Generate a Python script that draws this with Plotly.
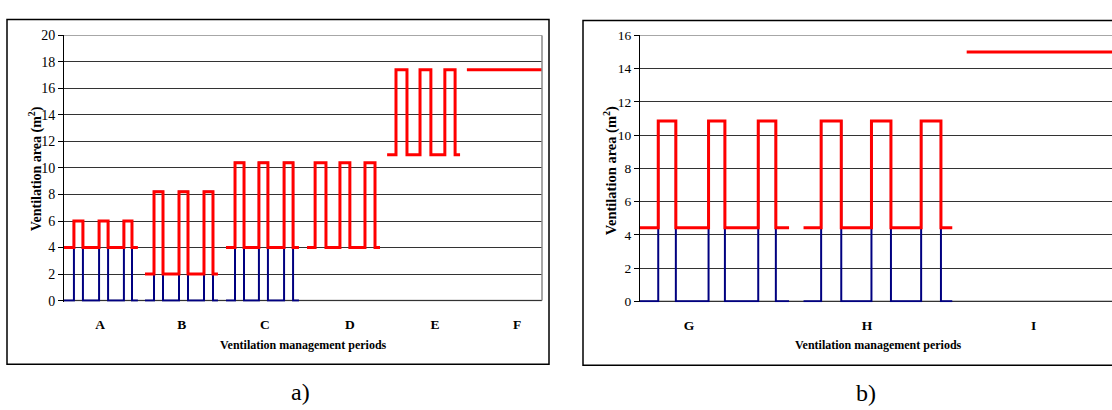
import plotly.graph_objects as go

W, H = 1112, 410
SERIF = "Times New Roman, Liberation Serif, DejaVu Serif, serif"

# ---------------- chart a) : periods A-F ----------------
periods_a = ["A", "B", "C", "D", "E", "F"]
label_hours_a = [11.6, 37.9, 64.7, 92.1, 119.5, 146.0]      # where the period names sit on the time axis
start_a = [0, 26, 52, 78, 104, 130]                          # period start (h)
begin_a = [0.0, 0.1, 0.2, 0.3, 0.1, -0.2]                    # first sample within period (h)
end_a = [23.8, 23.6, 23.7, 23.8, 23.6, 24.0]                 # last sample within period (h)
base_a = [4.0, 2.0, 4.0, 4.0, 11.0, 17.4]                    # resting ventilation area (m2)
peak_a = [6.0, 8.2, 10.4, 10.4, 17.4, 17.4]                  # ventilation area while opened (m2)
open_a = [[3.2, 11.3, 19.3], [3.0, 11.05, 19.1], [3.1, 10.8, 18.9],
          [2.9, 10.9, 18.97], [2.96, 10.7, 18.7], []]
close_a = [[6.1, 14.2, 21.9], [5.9, 13.95, 22.0], [6.0, 13.7, 21.8],
           [6.4, 14.1, 22.2], [6.5, 14.2, 22.0], []]
pulse_periods_a = [0, 1, 2]                                  # periods where the opening pulses start from zero

# ---------------- chart b) : periods G-I ----------------
periods_b = ["G", "H", "I"]
label_hours_b = [7.8, 36.1, 62.6]
start_b = [0, 26, 52]
begin_b = [0.0, 0.0, -0.06]
end_b = [23.7, 23.65, 24.0]
base_b = [4.43, 4.43, 15.0]
peak_b = [10.84, 10.84, 15.0]
open_b = [[2.9, 10.9, 18.8], [2.8, 10.8, 18.7], []]
close_b = [[5.7, 13.5, 21.6], [6.0, 13.9, 21.85], []]
pulse_periods_b = [0, 1]


def step_series(idx, start, begin, end, low, high, opens, closes):
    """Build a stepped x/y series over the chosen periods, gaps between periods."""
    xs, ys = [], []
    for i in idx:
        s = start[i]
        xs.append(s + begin[i]); ys.append(low[i])
        for on, off in zip(opens[i], closes[i]):
            xs += [s + on, s + on, s + off, s + off]
            ys += [low[i], high[i], high[i], low[i]]
        xs.append(s + end[i]); ys.append(low[i])
        xs.append(None); ys.append(None)
    return xs, ys


fig = go.Figure()

# blue: opening pulses measured from zero
bx, by = step_series(pulse_periods_a, start_a, begin_a, end_a,
                     [0] * len(periods_a), peak_a, open_a, close_a)
fig.add_trace(go.Scatter(x=bx, y=by, mode="lines", line=dict(color="#000080", width=2),
                         xaxis="x", yaxis="y", showlegend=False, hoverinfo="skip"))
# red: total ventilation area
rx, ry = step_series(range(len(periods_a)), start_a, begin_a, end_a,
                     base_a, peak_a, open_a, close_a)
fig.add_trace(go.Scatter(x=rx, y=ry, mode="lines", line=dict(color="#FF0000", width=3),
                         xaxis="x", yaxis="y", showlegend=False, hoverinfo="skip"))

bx, by = step_series(pulse_periods_b, start_b, begin_b, end_b,
                     [0] * len(periods_b), peak_b, open_b, close_b)
fig.add_trace(go.Scatter(x=bx, y=by, mode="lines", line=dict(color="#000080", width=2),
                         xaxis="x2", yaxis="y2", showlegend=False, hoverinfo="skip"))
rx, ry = step_series(range(len(periods_b)), start_b, begin_b, end_b,
                     base_b, peak_b, open_b, close_b)
fig.add_trace(go.Scatter(x=rx, y=ry, mode="lines", line=dict(color="#FF0000", width=3),
                         xaxis="x2", yaxis="y2", showlegend=False, hoverinfo="skip"))


def px_x(p):
    return p / W


def px_y(p):
    return 1 - p / H


xcommon = dict(showgrid=False, zeroline=False, showline=False,
               ticks="", tickmode="array", ticklabelstandoff=13,
               tickfont=dict(family=SERIF, size=13.5, color="black", weight="bold"))
ycommon = dict(showgrid=True, gridcolor="#333333", gridwidth=1, zeroline=False,
               showline=True, linecolor="black", linewidth=1,
               ticks="outside", ticklen=5, tickwidth=1, tickcolor="black",
               tick0=0, dtick=2,
               tickfont=dict(family=SERIF, size=14, color="black"))

# a little room below zero so the baseline of the pulses is not clipped
y_pad_a = 0.08
y_pad_b = 0.065

fig.update_layout(
    width=W, height=H, autosize=False,
    margin=dict(l=0, r=0, t=0, b=0, pad=0),
    paper_bgcolor="white", plot_bgcolor="white",
    xaxis=dict(domain=[px_x(64), px_x(542)], range=[0, 154],
               tickvals=label_hours_a, ticktext=periods_a, anchor="y", **xcommon),
    yaxis=dict(domain=[px_y(305.1), px_y(29.3)], range=[-y_pad_a, 20], anchor="x", **ycommon),
    xaxis2=dict(domain=[px_x(640), 1.0], range=[0, 76 * 472 / 478],
                tickvals=label_hours_b, ticktext=periods_b, anchor="y2", **xcommon),
    yaxis2=dict(domain=[px_y(305.8), px_y(29.3)], range=[-y_pad_b, 16], anchor="x2", **ycommon),
)
fig.layout.yaxis2.tickfont.size = 13.5

gray = "#8a8a8a"
shapes = [
    # outer chart frames
    dict(type="rect", xref="paper", yref="paper", x0=px_x(7), x1=px_x(549), y0=px_y(370), y1=px_y(13),
         line=dict(color="black", width=1.5)),
    dict(type="rect", xref="paper", yref="paper", x0=px_x(583), x1=px_x(1125), y0=px_y(371), y1=px_y(14),
         line=dict(color="black", width=1.5)),
    # category axis lines at zero, under the series
    dict(type="line", xref="x domain", yref="y", x0=0, x1=1, y0=0, y1=0, layer="below",
         line=dict(color=gray, width=1.5)),
    dict(type="line", xref="x2 domain", yref="y2", x0=0, x1=1, y0=0, y1=0, layer="below",
         line=dict(color=gray, width=1.5)),
    # plot-area borders
    dict(type="line", xref="x domain", yref="y", x0=0, x1=1, y0=20, y1=20,
         line=dict(color=gray, width=1.5)),
    dict(type="line", xref="x domain", yref="y", x0=1, x1=1, y0=0, y1=20,
         line=dict(color=gray, width=1.5)),
    dict(type="line", xref="x2 domain", yref="y2", x0=0, x1=1, y0=16, y1=16,
         line=dict(color=gray, width=1.5)),
]
fig.update_layout(shapes=shapes)

ann_font = dict(family=SERIF, color="black", weight="bold")
annotations = [
    dict(text="Ventilation area (m<sup>2</sup>)", textangle=-90, x=px_x(35), y=px_y(168),
         font=dict(size=14, **ann_font)),
    dict(text="Ventilation area (m<sup>2</sup>)", textangle=-90, x=px_x(610), y=px_y(170),
         font=dict(size=14.5, **ann_font)),
    dict(text="Ventilation management periods", x=px_x(303), y=px_y(350),
         font=dict(size=12, **ann_font)),
    dict(text="Ventilation management periods", x=px_x(878), y=px_y(350),
         font=dict(size=12, **ann_font)),
    dict(text="a)", x=px_x(300), y=px_y(399), font=dict(family=SERIF, size=24, color="black")),
    dict(text="b)", x=px_x(866), y=px_y(400), font=dict(family=SERIF, size=24, color="black")),
]
for a in annotations:
    a.update(xref="paper", yref="paper", showarrow=False, xanchor="center", yanchor="middle")
fig.update_layout(annotations=annotations)

fig.write_html("out.html")
